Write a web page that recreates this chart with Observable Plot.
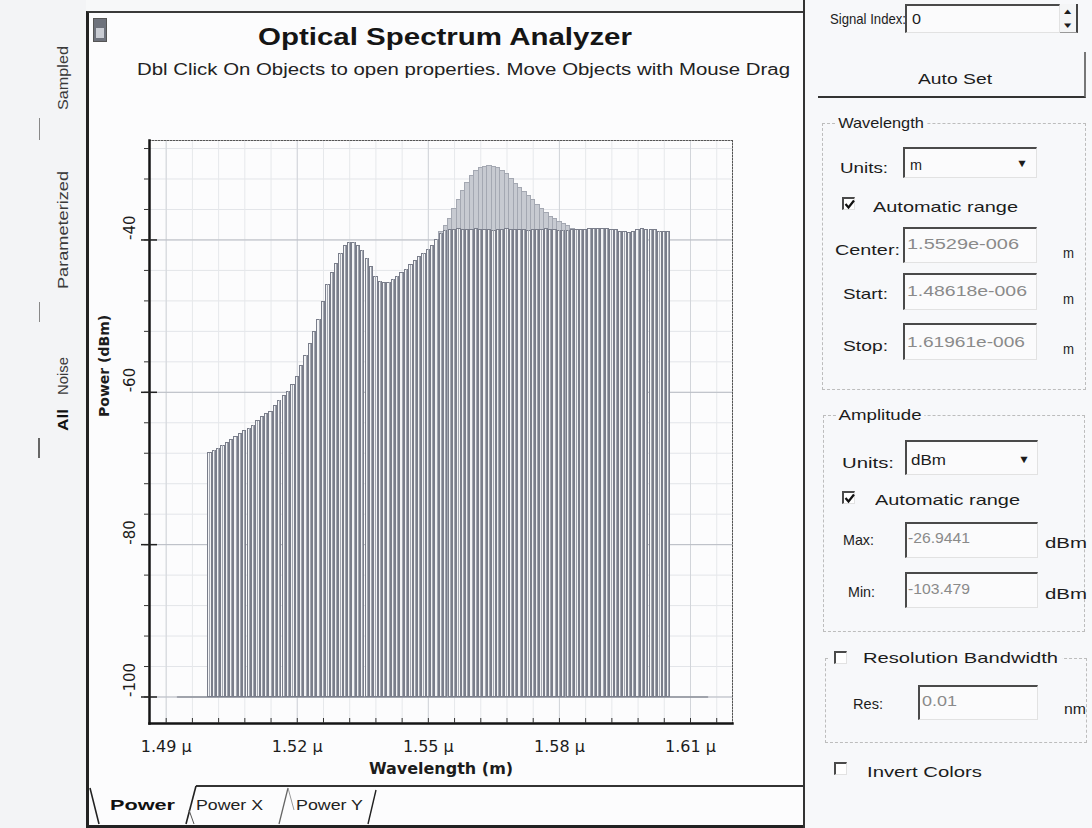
<!DOCTYPE html>
<html><head><meta charset="utf-8">
<script src="https://cdn.jsdelivr.net/npm/d3@7"></script>
<script src="https://cdn.jsdelivr.net/npm/@observablehq/plot@0.6"></script>
<style>
html,body{margin:0;padding:0;}
body{width:1092px;height:828px;position:relative;overflow:hidden;background:#f7f8f9;font-family:"Liberation Sans",Arial,sans-serif;color:#1c1c1c;}
.a{position:absolute;white-space:nowrap;}
.r{position:absolute;box-sizing:border-box;}
</style></head>
<body>
<div id="root"></div>
<script>
// ---------------- DATA ----------------
const wavelengthNm = [
1500,1501,1502,1503,1504,1505,1506,1507,1508,1509,
1510,1511,1512,1513,1514,1515,1516,1517,1518,1519,
1520,1521,1522,1523,1524,1525,1526,1527,1528,1529,
1530,1531,1532,1533,1534,1535,1536,1537,1538,1539,
1540,1541,1542,1543,1544,1545,1546,1547,1548,1549,
1550,1551,1552,1553,1554,1555,1556,1557,1558,1559,
1560,1561,1562,1563,1564,1565,1566,1567,1568,1569,
1570,1571,1572,1573,1574,1575,1576,1577,1578,1579,
1580,1581,1582,1583,1584,1585,1586,1587,1588,1589,
1590,1591,1592,1593,1594,1595,1596,1597,1598,1599,
1600,1601,1602,1603,1604,1605];
const powerDbm = [
-68.0,-67.7,-67.4,-67.0,-66.7,-66.3,-65.9,-65.5,-65.1,-64.8,
-64.4,-63.8,-63.3,-62.9,-62.6,-61.8,-61.1,-60.5,-59.9,-59.1,
-58.0,-56.6,-55.2,-53.7,-52.1,-50.5,-48.2,-45.9,-44.4,-43.2,
-41.8,-40.8,-40.4,-40.4,-40.8,-41.4,-42.5,-43.6,-44.8,-45.5,
-45.7,-45.6,-45.2,-44.8,-44.4,-43.9,-43.3,-42.8,-42.3,-41.8,
-41.3,-40.8,-40.0,-39.2,-38.8,-38.7,-38.7,-38.6,-38.7,-38.7,
-38.7,-38.6,-38.7,-38.7,-38.7,-38.8,-38.7,-38.7,-38.6,-38.7,
-38.7,-38.7,-38.7,-38.8,-38.7,-38.7,-38.7,-38.6,-38.7,-38.7,
-38.8,-38.8,-38.8,-38.7,-38.7,-38.7,-38.7,-38.6,-38.6,-38.6,
-38.6,-38.6,-38.7,-38.7,-39.0,-39.0,-39.1,-39.0,-38.7,-38.6,
-38.7,-38.7,-38.7,-38.9,-39.0,-39.0];
const peakNm = [
1553,1554,1555,1556,1557,1558,1559,1560,1561,1562,
1563,1564,1565,1566,1567,1568,1569,1570,1571,1572,
1573,1574,1575,1576,1577,1578,1579,1580,1581,1582,1583];
const peakDbm = [
-39.0,-38.2,-37.2,-36.0,-34.8,-33.6,-32.5,-31.6,-31.0,-30.6,
-30.4,-30.3,-30.4,-30.5,-30.9,-31.4,-32.0,-32.6,-33.2,-33.7,
-34.2,-34.8,-35.4,-36.0,-36.5,-37.0,-37.3,-37.6,-37.9,-38.2,-38.5];
const floorDbm = -100;
const floorSpanNm = [1492.6, 1613.9];
const xDomainUm = [1.48618, 1.61961];
const yDomainDbm = [-103.479, -26.9441];
const xMajorTicks = [1.49, 1.52, 1.55, 1.58, 1.61];
const xTickLabels = ["1.49 µ", "1.52 µ", "1.55 µ", "1.58 µ", "1.61 µ"];
const xMinorTicks = [1.49,1.496,1.502,1.508,1.514,1.52,1.526,1.532,1.538,1.544,1.55,1.556,1.562,1.568,1.574,1.58,1.586,1.592,1.598,1.604,1.61,1.616];
const yMajorTicks = [-40, -60, -80, -100];
const yTickLabels = ["-40", "-60", "-80", "-100"];
const yMinorTicks = [-100,-96,-92,-88,-84,-80,-76,-72,-68,-64,-60,-56,-52,-48,-44,-40,-36,-32,-28];

// ---------------- helpers for the surrounding UI ----------------
const root = document.getElementById('root');
function R(x, y, w, h, css) {
  const d = document.createElement('div'); d.className = 'r';
  Object.assign(d.style, {left: x+'px', top: y+'px', width: w+'px', height: h+'px'}, css || {});
  root.appendChild(d); return d;
}
function T(text, x, cy, fs, w, o) {
  o = o || {};
  const d = document.createElement('div'); d.className = 'a'; d.textContent = text;
  Object.assign(d.style, {left: x+'px', top: (cy - fs/2)+'px', fontSize: fs+'px', lineHeight: fs+'px'});
  if (o.bold) d.style.fontWeight = 'bold';
  if (o.color) d.style.color = o.color;
  if (o.bg) { d.style.background = o.bg; d.style.padding = '0 2px'; }
  root.appendChild(d);
  if (w) { const aw = d.getBoundingClientRect().width; d.style.transformOrigin = '0 50%'; d.style.transform = `scaleX(${w/aw})`; }
  return d;
}
function V(text, cx, cy, fs, len, o) {
  o = o || {};
  const d = document.createElement('div'); d.className = 'a'; d.textContent = text;
  Object.assign(d.style, {left: cx+'px', top: cy+'px', fontSize: fs+'px', lineHeight: fs+'px'});
  if (o.bold) d.style.fontWeight = 'bold';
  if (o.color) d.style.color = o.color;
  root.appendChild(d);
  const aw = d.getBoundingClientRect().width;
  d.style.transform = `translate(-50%,-50%) rotate(-90deg) scaleX(${len/aw})`;
  return d;
}
const sunken = {background:'#fbfbfc', borderTop:'2px solid #4a4a4a', borderLeft:'2px solid #4a4a4a', borderRight:'1px solid #e2e2e2', borderBottom:'1px solid #e2e2e2'};
function checkbox(x, y, checked) {
  const b = R(x, y, 13, 13, Object.assign({}, sunken, {background:'#fff'}));
  if (checked) b.innerHTML = '<svg width="11" height="11" style="position:absolute;left:0;top:0"><polyline points="1.5,5 4.5,8.5 10,1.5" fill="none" stroke="#111" stroke-width="2.2"/></svg>';
}

// ---------------- left vertical tab strip ----------------
R(0, 0, 86, 828, {background:'#f3f4f6'});
V('Sampled', 62, 78, 15, 64, {color:'#3a3a3a'});
V('Parameterized', 62, 230, 15, 118, {color:'#3a3a3a'});
V('Noise', 62, 376, 15, 38, {color:'#3a3a3a'});
V('All', 62, 420, 15, 22, {bold:true, color:'#111'});
R(39, 118, 1, 22, {background:'#888'});
R(39, 302, 1, 20, {background:'#888'});
R(38, 438, 2, 20, {background:'#666'});

// ---------------- main panel ----------------
R(86, 11, 717, 817, {background:'#fcfcfd', borderLeft:'3px solid #222', borderTop:'2px solid #3a3a3a'});
R(93, 18, 14, 24, {background:'#6e727c', border:'1px solid #555'});
R(96, 28, 8, 10, {background:'#c9ccd3'});
T('Optical Spectrum Analyzer', 258, 37, 24, 374, {bold:true, color:'#151515'});
T('Dbl Click On Objects to open properties.  Move Objects with Mouse Drag', 137, 70, 16, 653, {color:'#222'});

// bottom tabs
R(196, 785, 607, 2, {background:'#333'});
R(86, 825, 717, 3, {background:'#222'});
T('Power', 110, 804, 15, 65, {bold:true, color:'#111'});
T('Power X', 196, 804, 15, 67, {color:'#222'});
T('Power Y', 296, 804, 15, 67, {color:'#222'});
const tabSvg = document.createElementNS('http://www.w3.org/2000/svg','svg');
tabSvg.setAttribute('width', 400); tabSvg.setAttribute('height', 50);
Object.assign(tabSvg.style, {position:'absolute', left:'86px', top:'780px'});
tabSvg.innerHTML = `
<line x1="4" y1="8" x2="13" y2="44" stroke="#222" stroke-width="1.6"/>
<line x1="100" y1="44" x2="110" y2="6" stroke="#222" stroke-width="1.6"/>
<line x1="103" y1="30" x2="108" y2="44" stroke="#555" stroke-width="1"/>
<line x1="193" y1="44" x2="202" y2="8" stroke="#666" stroke-width="1.3"/>
<line x1="202" y1="8" x2="208" y2="30" stroke="#999" stroke-width="1"/>
<line x1="282" y1="44" x2="290" y2="10" stroke="#222" stroke-width="1.4"/>`;
root.appendChild(tabSvg);

// ---------------- right control panel ----------------
R(803, 0, 289, 828, {background:'#f7f8fa', borderLeft:'2px solid #333'});
T('Signal Index:', 830, 18, 15, 76);
R(905, 4, 155, 29, sunken);
T('0', 912, 18, 15, 9);
R(1060, 4, 18, 29, {borderRight:'2px solid #444', borderBottom:'1px solid #999', background:'#f4f5f6'});
T('▴', 1064, 11, 9, 8); T('▾', 1064, 25, 9, 8);
R(818, 52, 268, 46, {borderBottom:'2px solid #333', borderRight:'2px solid #777', background:'#f7f8fa'});
T('Auto Set', 918, 78, 15, 74);

R(822, 123, 264, 267, {border:'1px dashed #bdbdbd'});
T('Wavelength', 836, 122, 15, 90, {bg:'#f7f8fa'});
T('Units:', 840, 167, 15, 48);
R(903, 147, 134, 31, sunken);
T('m', 910, 164, 15, 12);
T('▼', 1016, 163, 11, 12);
checkbox(842, 197, true);
T('Automatic range', 873, 206, 15, 145);
T('Center:', 835, 249, 15, 65);
R(903, 227, 134, 36, sunken);
T('1.5529e-006', 907, 243, 15, 112, {color:'#8a8a8a'});
T('m', 1063, 252, 15, 11);
T('Start:', 843, 293, 15, 45);
R(903, 273, 134, 37, sunken);
T('1.48618e-006', 907, 290, 15, 120, {color:'#8a8a8a'});
T('m', 1063, 298, 15, 11);
T('Stop:', 843, 345, 15, 45);
R(903, 323, 134, 37, sunken);
T('1.61961e-006', 907, 341, 15, 118, {color:'#8a8a8a'});
T('m', 1063, 348, 15, 11);

R(823, 415, 262, 217, {border:'1px dashed #bdbdbd'});
T('Amplitude', 836, 414, 15, 88, {bg:'#f7f8fa'});
T('Units:', 842, 462, 15, 52);
R(905, 440, 133, 35, sunken);
T('dBm', 911, 459, 15, 35);
T('▼', 1018, 459, 11, 12);
checkbox(842, 491, true);
T('Automatic range', 875, 499, 15, 145);
T('Max:', 843, 539, 15, 31);
R(905, 522, 133, 36, sunken);
T('-26.9441', 908, 537, 15, 62, {color:'#8a8a8a'});
T('dBm', 1045, 542, 15, 42);
T('Min:', 848, 591, 15, 27);
R(905, 572, 133, 36, sunken);
T('-103.479', 908, 588, 15, 62, {color:'#8a8a8a'});
T('dBm', 1045, 593, 15, 42);

R(825, 658, 262, 85, {border:'1px dashed #bdbdbd'});
R(830, 650, 232, 16, {background:'#f7f8fa'});
checkbox(834, 651, false);
T('Resolution Bandwidth', 863, 657, 15, 195);
T('Res:', 853, 703, 15, 30);
R(918, 685, 120, 35, sunken);
T('0.01', 922, 700, 15, 35, {color:'#8a8a8a'});
T('nm', 1064, 708, 15, 22);
checkbox(834, 762, false);
T('Invert Colors', 867, 771, 15, 115);

// ---------------- the chart (Observable Plot) ----------------
const channels = wavelengthNm.map((nm, i) => ({nm, dBm: powerDbm[i]}));
const peakChannels = peakNm.map((nm, i) => ({nm, dBm: peakDbm[i]}));
const floorLine = floorSpanNm.map(nm => ({nm, dBm: floorDbm}));
const halfWidth = 0.38, peakHalf = 0.5;
const innerW = 583, innerH = 583;

const chart = Plot.plot({
  width: 680, height: 660,
  marginLeft: 69, marginRight: 28, marginTop: 20, marginBottom: 57,
  x: {domain: xDomainUm},
  y: {domain: yDomainDbm},
  style: {background: "transparent", fontFamily: "DejaVu Sans, sans-serif", color: "#1c1c1c", overflow: "visible"},
  marks: [
    Plot.gridY(yMinorTicks, {stroke: "#e3e5e9", strokeOpacity: 1}),
    Plot.gridX(xMinorTicks, {stroke: "#e6e8eb", strokeOpacity: 1}),
    Plot.gridX(xMajorTicks, {stroke: "#d2d5da", strokeOpacity: 1}),
    Plot.gridY(yMajorTicks, {stroke: "#b8bcc3", strokeOpacity: 1}),
    Plot.line(floorLine, {x: d => d.nm / 1000, y: "dBm", stroke: "#8e929c", strokeWidth: 1.6}),
    Plot.rect(peakChannels, {x1: d => (d.nm - peakHalf) / 1000, x2: d => (d.nm + peakHalf) / 1000, y1: floorDbm, y2: "dBm",
      fill: "#c7cad1", stroke: "#a4a8b2", strokeWidth: 1, shapeRendering: "crispEdges"}),
    Plot.rect(channels, {x1: d => (d.nm - halfWidth) / 1000, x2: d => (d.nm + halfWidth) / 1000, y1: floorDbm, y2: "dBm",
      fill: "#f3f4f6", stroke: "#7a7e8b", strokeWidth: 1, shapeRendering: "crispEdges"}),
    Plot.ruleX(channels, {x: d => d.nm / 1000, y1: floorDbm, y2: "dBm", stroke: "#a3a7b1", strokeWidth: 1, shapeRendering: "crispEdges"}),
    Plot.frame({anchor: "top", stroke: "#555", strokeDasharray: "1.5,1.5"}),
    Plot.frame({anchor: "right", stroke: "#555", strokeDasharray: "1.5,1.5"}),
    Plot.frame({anchor: "left", stroke: "#151515", strokeWidth: 2.5}),
    Plot.frame({anchor: "bottom", stroke: "#151515", strokeWidth: 2.5}),
    Plot.axisY(yMinorTicks, {tickSize: 5, tickFormat: () => "", label: null, stroke: "#333"}),
    Plot.axisY(yMajorTicks, {tickSize: 8, tickFormat: () => "", label: null, stroke: "#222", strokeWidth: 1.5}),
    Plot.tickY(yMajorTicks, {y: d => d, insetRight: innerW - 8, stroke: "#222", strokeWidth: 1.5}),
    Plot.tickX(xMinorTicks, {x: d => d, insetTop: innerH - 5, stroke: "#333"}),
    Plot.axisX(xMajorTicks, {tickSize: 0, tickPadding: 17, tickFormat: d => xTickLabels[xMajorTicks.indexOf(d)], label: null, fontSize: 16}),
    Plot.text(yMajorTicks, {y: d => d, frameAnchor: "left", dx: -19, rotate: -90, text: d => yTickLabels[yMajorTicks.indexOf(d)], fontSize: 15}),
    Plot.text(["Wavelength (m)"], {frameAnchor: "bottom", dy: 50, text: d => d, fontWeight: "bold", fontSize: 16}),
    Plot.text(["Power (dBm)"], {frameAnchor: "left", dx: -45, dy: -15, rotate: -90, text: d => d, fontWeight: "bold", fontSize: 14})
  ]
});
Object.assign(chart.style, {position: "absolute", left: "80px", top: "120px"});
root.appendChild(chart);
</script>
</body></html>
